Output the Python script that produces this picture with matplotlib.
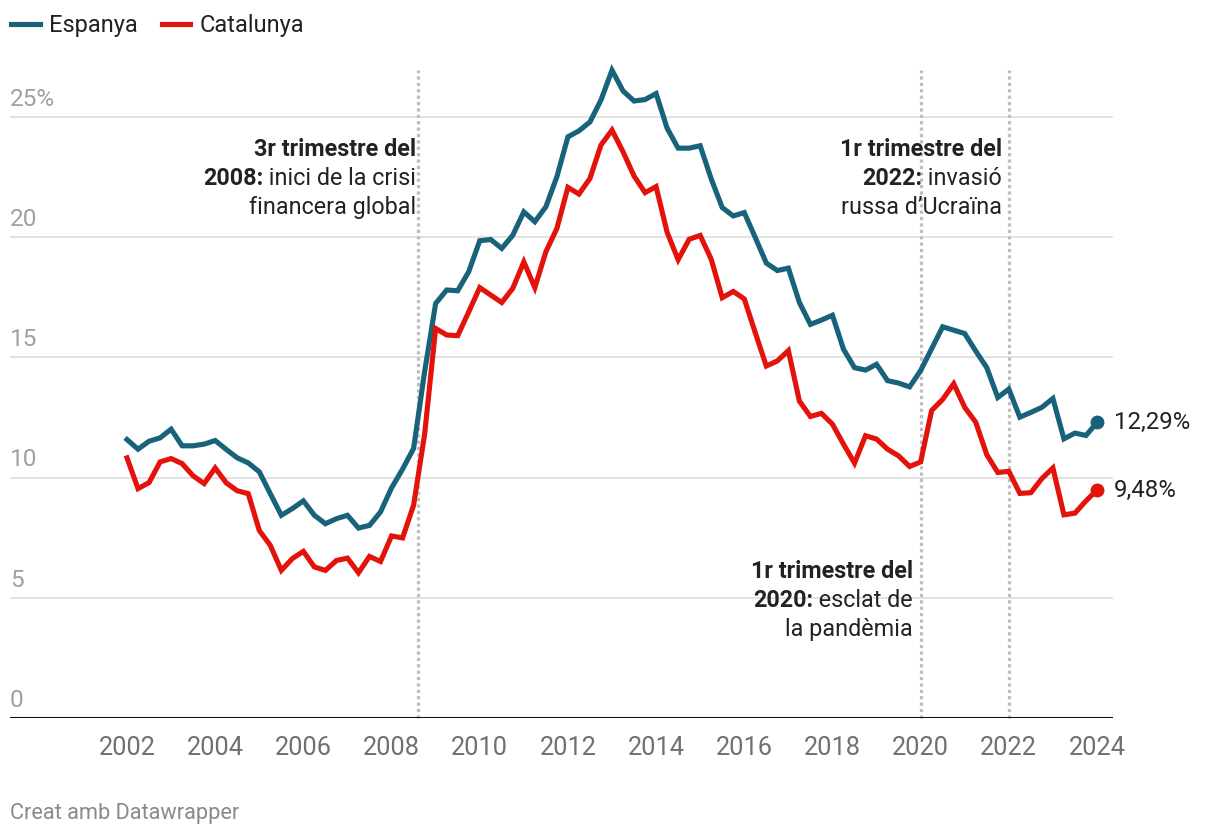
import matplotlib
matplotlib.use("Agg")
import matplotlib.pyplot as plt
import numpy as np

plt.rcParams['font.family'] = ['Roboto', 'DejaVu Sans']

# quarterly unemployment rate, 2002 Q1 .. 2024 Q1
espanya = [11.58, 11.18, 11.51, 11.65, 12.01, 11.32, 11.32, 11.39, 11.54, 11.17,
           10.82, 10.61, 10.24, 9.33, 8.43, 8.71, 9.03, 8.43, 8.08, 8.29,
           8.43, 7.90, 8.01, 8.57, 9.57, 10.35, 11.21, 14.4, 17.24, 17.8,
           17.77, 18.56, 19.85, 19.9, 19.53, 20.08, 21.05, 20.64, 21.26, 22.51,
           24.17, 24.42, 24.79, 25.7, 26.94, 26.08, 25.66, 25.72, 25.97, 24.53,
           23.7, 23.7, 23.8, 22.42, 21.23, 20.88, 21.02, 19.98, 18.92, 18.61,
           18.71, 17.28, 16.37, 16.55, 16.75, 15.34, 14.57, 14.47, 14.71, 14.03,
           13.93, 13.77, 14.45, 15.36, 16.27, 16.13, 15.99, 15.26, 14.57, 13.33,
           13.68, 12.51, 12.71, 12.92, 13.29, 11.61, 11.85, 11.75, 12.29]
catalunya = [10.82, 9.54, 9.79, 10.65, 10.79, 10.58, 10.07, 9.75, 10.4, 9.78,
             9.45, 9.33, 7.8, 7.18, 6.14, 6.63, 6.93, 6.28, 6.14, 6.55,
             6.65, 6.04, 6.72, 6.51, 7.57, 7.49, 8.85, 11.8, 16.2, 15.93,
             15.9, 16.89, 17.9, 17.59, 17.28, 17.87, 18.97, 17.9, 19.39, 20.36,
             22.07, 21.79, 22.44, 23.83, 24.45, 23.55, 22.54, 21.85, 22.1, 20.2,
             19.06, 19.91, 20.07, 19.08, 17.48, 17.74, 17.43, 16.02, 14.64, 14.85,
             15.28, 13.18, 12.54, 12.67, 12.22, 11.39, 10.6, 11.74, 11.6, 11.18,
             10.9, 10.46, 10.65, 12.79, 13.25, 13.9, 12.92, 12.3, 10.95, 10.21,
             10.26, 9.34, 9.37, 9.96, 10.4, 8.45, 8.52, 9.03, 9.48]
quarters = 2002 + np.arange(len(espanya)) * 0.25

year_ticks = list(range(2002, 2025, 2))
y_ticks = [0, 5, 10, 15, 20, 25]
y_labels = ['0', '5', '10', '15', '20', '25%']
events = [2008.6, 2020.0, 2022.0]

blue = '#18637b'
red = '#e3120b'
W, H, dpi = 1220, 836, 100

fig = plt.figure(figsize=(W / dpi, H / dpi), dpi=dpi)
ax = fig.add_axes([10 / W, (H - 718) / H, (1113 - 10) / W, (718 - 70) / H])
ax.set_xlim(2002 - 117 / 44.09, 2024 + 16 / 44.09)
ax.set_ylim(0, 26.95)
for s in ax.spines.values():
    s.set_visible(False)
ax.set_yticks([])
ax.set_xticks(year_ticks)
ax.set_xticklabels([str(y) for y in year_ticks], fontsize=18.3, color='#707070')
ax.tick_params(axis='x', length=0, pad=13)

for v, lab in zip(y_ticks, y_labels):
    if v > 0:
        ax.axhline(v, color='#e2e2e2', lw=1.4, zorder=1)
    ax.annotate(lab, xy=(0, v), xycoords=('axes fraction', 'data'),
                xytext=(0, 4.5), textcoords='offset points',
                ha='left', va='bottom', fontsize=17.6, color='#a0a0a0')
ax.axhline(0, color='#111111', lw=2.2, zorder=4)

for e in events:
    ax.plot([e, e], [0, 26.95], color='#bdbdbd', lw=2.3,
            linestyle=(0, (1, 1)), zorder=2, clip_on=False)

ax.plot(quarters, espanya, color=blue, lw=3.7, zorder=5, solid_joinstyle='miter',
        label='Espanya', clip_on=False)
ax.plot(quarters, catalunya, color=red, lw=3.7, zorder=5, solid_joinstyle='miter',
        label='Catalunya', clip_on=False)
ax.plot(quarters[-1], espanya[-1], 'o', color=blue, ms=9, zorder=6, clip_on=False)
ax.plot(quarters[-1], catalunya[-1], 'o', color=red, ms=9, zorder=6, clip_on=False)

for val in (espanya[-1], catalunya[-1]):
    ax.annotate(f'{val:.2f}%'.replace('.', ','), xy=(quarters[-1], val),
                xytext=(12, 0), textcoords='offset points', ha='left',
                va='center', fontsize=17.3, color='#222222')

fig.legend(loc='upper left', bbox_to_anchor=(2 / W, 1 - 5 / H), ncol=2,
           frameon=False, fontsize=17.0, handlelength=1.2, handletextpad=0.4,
           columnspacing=1.0, borderaxespad=0)
for t in fig.legends[0].get_texts():
    t.set_color('#222222')

fig.text(10 / W, 1 - 819 / H, 'Creat amb Datawrapper', fontsize=15.7,
         color='#8a8a8a', ha='left', va='baseline')


# annotations, positioned in pixels
def px(x, y):
    return (x / W, 1 - y / H)


fig.canvas.draw()
renderer = fig.canvas.get_renderer()
fs = 16.8


def note(xr, base, lines):
    for i, (bold, reg) in enumerate(lines):
        y = base + i * 29
        x0 = xr
        if reg:
            t = fig.text(*px(xr, y), reg, ha='right', va='baseline',
                         fontsize=fs, color='#222222')
            x0 = xr - t.get_window_extent(renderer).width
        if bold:
            fig.text(*px(x0, y), bold, ha='right', va='baseline', fontsize=fs,
                     fontweight='bold', color='#222222')


note(416, 156, [('3r trimestre del', ''), ('2008:', ' inici de la crisi'),
                ('', 'financera global')])
note(1002, 156, [('1r trimestre del', ''), ('2022:', ' invasió'),
                 ('', 'russa d\u2019Ucraïna')])
note(913, 578, [('1r trimestre del', ''), ('2020:', ' esclat de'),
                ('', 'la pandèmia')])

fig.savefig('out.png', dpi=dpi, facecolor='white')
